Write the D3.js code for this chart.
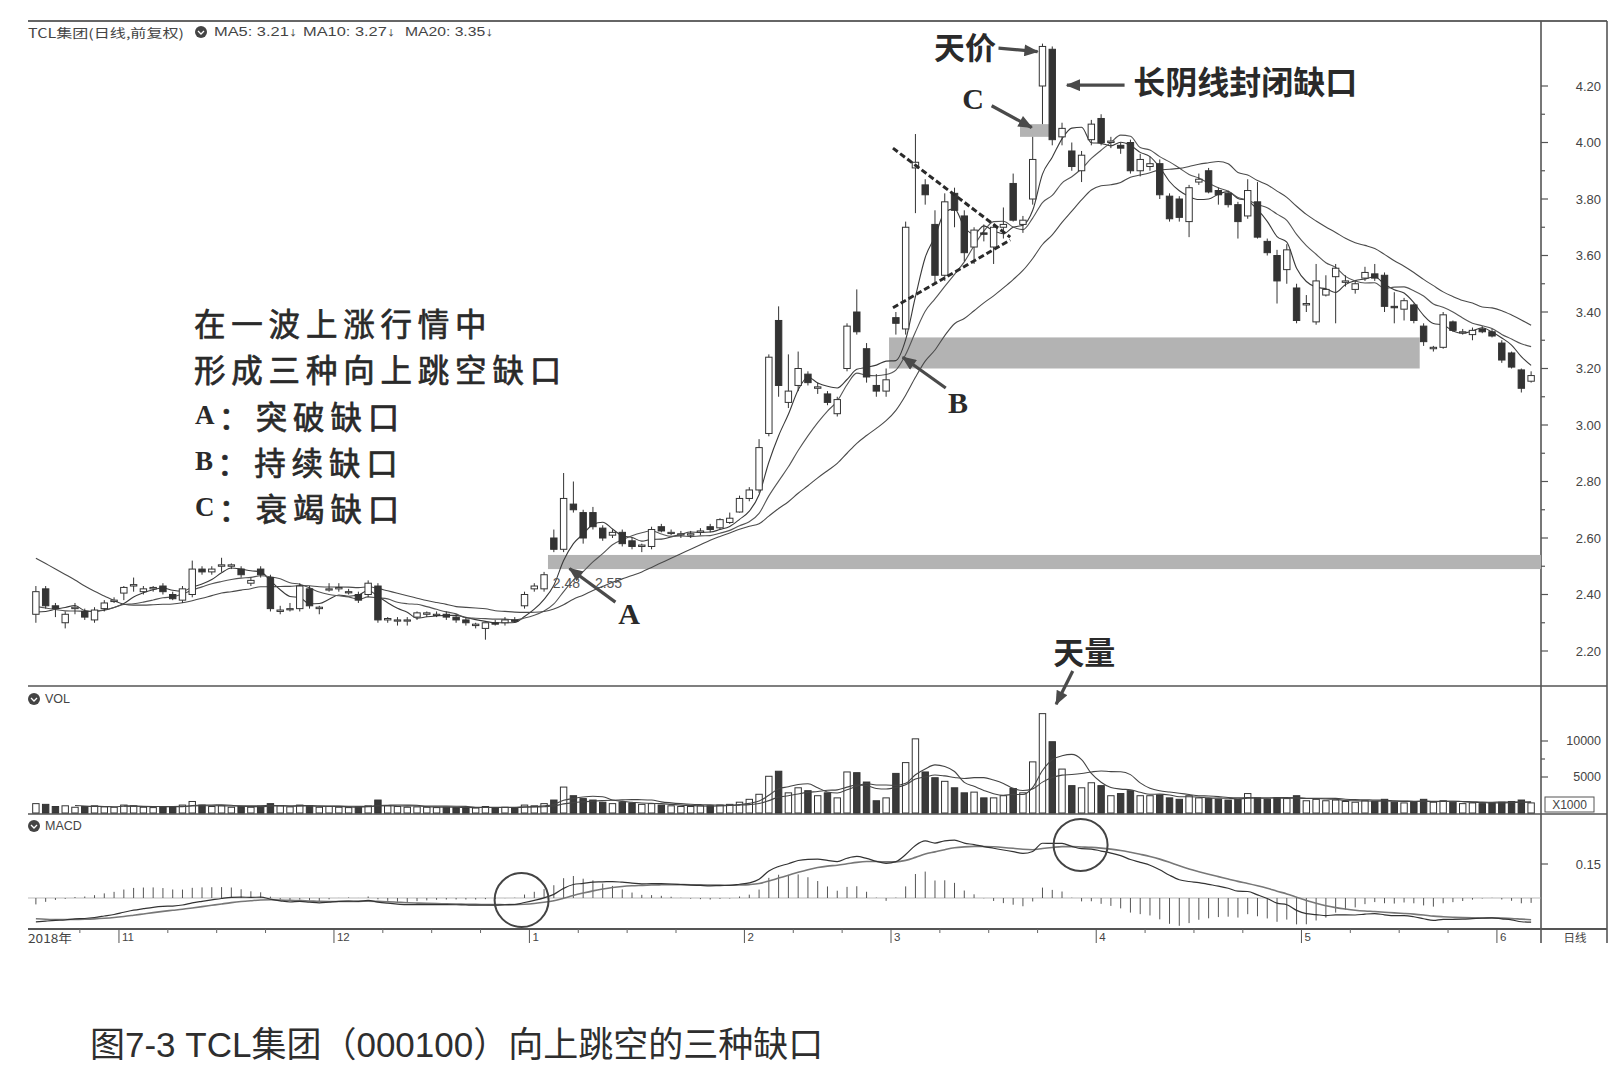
<!DOCTYPE html>
<html lang="zh-CN">
<head>
<meta charset="utf-8">
<script src="https://cdn.jsdelivr.net/npm/d3@7/dist/d3.min.js"></script>
<style>
html,body{margin:0;padding:0;background:#fff;}
svg{display:block;}
</style>
</head>
<body>
<svg id="chart" width="1618" height="1082"></svg>
<script>
// ================= DATA =================
// closes before the first visible candle (needed for the moving averages / MACD)
const priorCloses = [2.74,2.73,2.72,2.75,2.74,2.72,2.70,2.71,2.68,2.50,2.42,2.40,2.38,2.36,2.33,2.35,2.31,2.30,2.32];

const opens = [
2.33,2.42,2.36,2.30,2.35,2.34,2.31,2.35,2.375,
2.405,2.43,2.41,2.42,2.43,2.40,2.38,2.40,2.49,2.48,
2.50,2.50,2.49,2.44,2.49,2.46,2.34,2.35,2.35,2.42,2.35,
2.42,2.42,2.41,2.40,2.40,2.43,2.31,2.31,2.31,2.32,
2.33,2.33,2.33,2.32,2.31,2.29,2.28,2.30,2.30,2.31,
2.36,2.42,2.42,2.60,2.56,2.72,2.69,2.69,2.635,2.61,
2.62,2.59,2.57,2.57,2.64,2.62,2.615,2.61,2.62,2.64,
2.636,2.655,2.692,2.74,2.77,2.97,3.37,3.08,3.14,3.18,
3.13,3.11,3.04,3.20,3.40,3.27,3.14,3.12,3.38,3.34,
3.91,3.85,3.71,3.53,3.82,3.74,3.63,3.68,3.63,3.70,
3.855,3.71,3.80,4.20,4.33,4.02,3.97,3.90,4.01,4.085,
4.00,3.99,4.00,3.90,3.915,3.925,3.81,3.80,3.72,3.86,
3.90,3.83,3.82,3.78,3.74,3.79,3.65,3.60,3.55,3.485,
3.425,3.365,3.46,3.525,3.505,3.48,3.52,3.535,3.53,3.42,
3.41,3.425,3.35,3.27,3.275,3.365,3.33,3.32,3.34,3.33,
3.29,3.255,3.195,3.155
];
const highs = [
2.43,2.43,2.37,2.34,2.37,2.35,2.355,2.38,2.39,
2.43,2.46,2.43,2.43,2.44,2.41,2.43,2.52,2.50,2.50,
2.53,2.51,2.50,2.46,2.50,2.47,2.36,2.37,2.44,2.43,2.36,
2.44,2.44,2.42,2.41,2.45,2.44,2.32,2.32,2.32,2.34,
2.34,2.34,2.34,2.33,2.32,2.30,2.30,2.31,2.32,2.32,
2.41,2.44,2.48,2.63,2.83,2.80,2.70,2.71,2.645,2.63,
2.63,2.60,2.58,2.64,2.65,2.63,2.625,2.625,2.635,2.65,
2.67,2.69,2.75,2.78,2.95,3.25,3.42,3.25,3.26,3.19,
3.15,3.12,3.10,3.36,3.48,3.29,3.18,3.20,3.40,3.72,
4.03,3.87,3.76,3.82,3.84,3.76,3.70,3.71,3.71,3.77,
3.89,3.74,4.02,4.35,4.34,4.07,4.00,3.97,4.08,4.10,
4.02,4.00,4.01,3.96,3.95,3.94,3.82,3.81,3.85,3.89,
3.91,3.84,3.83,3.79,3.87,3.86,3.66,3.62,3.64,3.50,
3.46,3.57,3.53,3.57,3.53,3.51,3.56,3.57,3.54,3.47,
3.45,3.43,3.36,3.28,3.40,3.37,3.34,3.345,3.35,3.34,
3.30,3.26,3.20,3.19
];
const lows = [
2.30,2.35,2.32,2.28,2.33,2.31,2.30,2.34,2.37,
2.38,2.41,2.40,2.41,2.40,2.38,2.37,2.39,2.47,2.47,
2.48,2.49,2.46,2.43,2.46,2.34,2.33,2.34,2.34,2.35,2.33,
2.41,2.41,2.40,2.37,2.39,2.30,2.30,2.29,2.29,2.31,
2.32,2.32,2.31,2.30,2.29,2.28,2.24,2.29,2.29,2.30,
2.35,2.41,2.41,2.55,2.55,2.69,2.58,2.63,2.59,2.60,
2.57,2.56,2.55,2.56,2.62,2.61,2.60,2.60,2.61,2.62,
2.63,2.65,2.69,2.73,2.76,2.96,3.10,3.06,3.12,3.14,
3.11,3.07,3.03,3.19,3.32,3.15,3.10,3.10,3.32,3.32,
3.75,3.78,3.50,3.51,3.70,3.58,3.57,3.65,3.57,3.66,
3.72,3.68,3.78,4.065,3.99,3.99,3.90,3.86,3.99,3.99,
3.98,3.96,3.89,3.88,3.90,3.80,3.72,3.72,3.665,3.85,
3.82,3.78,3.77,3.66,3.73,3.66,3.60,3.43,3.50,3.36,
3.40,3.355,3.455,3.36,3.49,3.465,3.51,3.51,3.40,3.36,
3.37,3.36,3.28,3.26,3.27,3.33,3.32,3.30,3.325,3.31,
3.22,3.20,3.115,3.15
];
const closes = [
2.41,2.36,2.35,2.33,2.355,2.32,2.345,2.37,2.38,
2.425,2.435,2.42,2.425,2.41,2.385,2.42,2.49,2.48,2.49,
2.505,2.505,2.47,2.45,2.47,2.35,2.345,2.35,2.43,2.36,2.355,
2.42,2.425,2.41,2.38,2.44,2.31,2.315,2.31,2.31,2.335,
2.335,2.33,2.32,2.31,2.30,2.295,2.30,2.295,2.31,2.305,
2.40,2.43,2.47,2.56,2.74,2.70,2.60,2.64,2.60,2.62,
2.58,2.57,2.575,2.63,2.625,2.62,2.615,2.615,2.625,2.63,
2.665,2.67,2.74,2.77,2.92,3.24,3.14,3.12,3.20,3.15,
3.135,3.08,3.09,3.35,3.33,3.17,3.12,3.16,3.36,3.70,
3.93,3.815,3.53,3.79,3.76,3.61,3.69,3.675,3.70,3.71,
3.725,3.725,3.94,4.34,4.01,4.05,3.915,3.955,4.065,4.00,
4.005,3.98,3.90,3.94,3.925,3.815,3.73,3.735,3.84,3.87,
3.825,3.815,3.78,3.72,3.83,3.665,3.61,3.51,3.62,3.37,
3.43,3.51,3.48,3.555,3.51,3.50,3.54,3.52,3.42,3.415,
3.44,3.37,3.295,3.275,3.39,3.335,3.33,3.335,3.33,3.315,
3.23,3.205,3.13,3.175
];
const volumes = [
1300,1200,900,1000,800,900,1000,850,800,
1100,1000,800,750,900,850,1100,1600,1100,900,
1000,800,900,800,950,1300,1000,850,1100,1000,800,
900,800,750,850,1000,1800,1000,900,800,850,
800,750,800,750,700,700,900,750,800,750,
1100,1000,1300,1800,3600,2400,2000,1800,1500,1300,
1500,1400,1200,1300,1100,1000,900,900,1000,1000,
1100,1200,1500,1900,2600,5100,5800,2800,3500,3100,
2400,2800,2100,5700,5600,4300,1700,2100,5500,7000,
10300,5700,4900,4400,3500,2800,2900,2100,2100,2400,
3400,2800,7100,13800,9900,6100,3800,3500,4200,3800,
2400,2700,3100,2400,2400,2500,2100,1900,2400,2100,
2000,1900,1800,1900,2700,2100,1900,2100,2000,2400,
1700,1900,1700,1800,1600,1500,1700,1600,1900,1500,
1400,1600,1900,1500,1700,1500,1300,1400,1300,1400,
1500,1600,1800,1400
];

const monthStarts = [9,31,51,73,88,109,130,150];
const monthLabels = ["11","12","1","2","3","4","5","6"];
const priceTicks = [2.2,2.4,2.6,2.8,3.0,3.2,3.4,3.6,3.8,4.0,4.2];
const priceTickLabels = ["2.20","2.40","2.60","2.80","3.00","3.20","3.40","3.60","3.80","4.00","4.20"];
const volTicks = [5000,10000];
const volTickLabels = ["5000","10000"];
const macdTicks = [0.15];
const macdTickLabels = ["0.15"];

// gaps: [start index, end index, low price, high price]
const gapStarts = [52.9, 87.8, 101.2];
const gapEnds   = [154.5, 142.1, 104.6];
const gapLows   = [2.49, 3.20, 4.02];
const gapHighs  = [2.54, 3.31, 4.065];

const headerTexts = ["TCL集团(日线,前复权)","MA5: 3.21↓","MA10: 3.27↓","MA20: 3.35↓"];
const noteLines = ["在一波上涨行情中","形成三种向上跳空缺口"];
const gapNames = ["A","B","C"];
const gapDescs = ["突破缺口","持续缺口","衰竭缺口"];
const caption = "图7-3 TCL集团（000100）向上跳空的三种缺口";

// ================= LAYOUT =================
const LX = 28, AXX = 1541, RX = 1607;
const TOP = 21, MAIN_B = 686, VOL_B = 814, MACD_B = 929, DATE_B = 943;
const N = closes.length;

const svg = d3.select("#chart");
const xs = d3.scaleLinear().domain([0, 154]).range([31, 1536]);
const yP = d3.scaleLinear().domain([2.2, 4.2]).range([651, 86]);
const yV = d3.scaleLinear().domain([0, 10000]).range([813, 741]);
const yM = d3.scaleLinear().domain([0, 0.15]).range([898, 864]);
const cx = i => xs(i + 0.5);
const INK = "#333";
const bodyW = 6.4;

const defs = svg.append("defs");
function clip(id, y0, y1) {
  defs.append("clipPath").attr("id", id).append("rect")
    .attr("x", LX).attr("y", y0).attr("width", AXX - LX).attr("height", y1 - y0);
}
clip("cMain", TOP + 1, MAIN_B);
clip("cVol", MAIN_B + 1, VOL_B);
clip("cMacd", VOL_B + 1, MACD_B);
defs.append("marker").attr("id", "arr").attr("viewBox", "0 0 12 10")
  .attr("refX", 11).attr("refY", 5).attr("markerWidth", 15).attr("markerHeight", 12)
  .attr("markerUnits", "userSpaceOnUse").attr("orient", "auto")
  .append("path").attr("d", "M0,0 L12,5 L0,10 Z").attr("fill", "#4a4a4a");

// ---- derived indicators ----
const allC = priorCloses.concat(closes);
const P = priorCloses.length;
function maSeries(n) {
  return closes.map((_, i) => {
    const k = i + P;
    if (k - n + 1 < 0) return null;
    return d3.mean(allC.slice(k - n + 1, k + 1));
  });
}
function volMa(n) {
  return volumes.map((_, i) => i - n + 1 < 0 ? null : d3.mean(volumes.slice(i - n + 1, i + 1)));
}
function ema(arr, n) {
  const a = 2 / (n + 1); let e = arr[0];
  return arr.map((v, k) => (e = k === 0 ? v : a * v + (1 - a) * e));
}
const e12 = ema(allC, 12), e26 = ema(allC, 26);
const difAll = e12.map((v, k) => v - e26[k]);
const deaAll = ema(difAll, 9);
const dif = difAll.slice(P), dea = deaAll.slice(P);
const hist = dif.map((v, i) => 2 * (v - dea[i]));

// ================= FRAME =================
const frame = svg.append("g").attr("stroke", "#555").attr("fill", "none");
frame.append("line").attr("x1", LX).attr("x2", RX).attr("y1", TOP).attr("y2", TOP).attr("stroke-width", 2.2).attr("stroke", "#666");
[MAIN_B, VOL_B].forEach(y => frame.append("line").attr("x1", LX).attr("x2", RX).attr("y1", y).attr("y2", y).attr("stroke-width", 1.4));
frame.append("line").attr("x1", LX).attr("x2", RX).attr("y1", MACD_B).attr("y2", MACD_B).attr("stroke-width", 2);
frame.append("line").attr("x1", AXX).attr("x2", AXX).attr("y1", TOP).attr("y2", DATE_B).attr("stroke-width", 1.6);
frame.append("line").attr("x1", RX).attr("x2", RX).attr("y1", TOP).attr("y2", DATE_B).attr("stroke-width", 1.6);

// ================= MAIN PANEL =================
const gMain = svg.append("g").attr("clip-path", "url(#cMain)");

gapStarts.forEach((s, k) => {
  gMain.append("rect")
    .attr("x", xs(s)).attr("width", xs(gapEnds[k]) - xs(s))
    .attr("y", yP(gapHighs[k])).attr("height", yP(gapLows[k]) - yP(gapHighs[k]))
    .attr("fill", "#b3b3b3");
});

const lineGen = d3.line().defined(d => d.v != null).x(d => cx(d.i)).y(d => yP(d.v)).curve(d3.curveMonotoneX);
[[5, "#3a3a3a"], [10, "#555"], [20, "#4a4a4a"]].forEach(([n, col]) => {
  const s = maSeries(n).map((v, i) => ({ i, v }));
  gMain.append("path").attr("d", lineGen(s)).attr("fill", "none").attr("stroke", col).attr("stroke-width", 1.1);
});

const idx = d3.range(N);
const cg = gMain.selectAll("g.c").data(idx).join("g");
cg.append("line").attr("x1", i => cx(i)).attr("x2", i => cx(i))
  .attr("y1", i => yP(highs[i])).attr("y2", i => yP(lows[i])).attr("stroke", INK).attr("stroke-width", 1);
cg.append("rect")
  .attr("x", i => cx(i) - bodyW / 2).attr("width", bodyW)
  .attr("y", i => yP(Math.max(opens[i], closes[i])))
  .attr("height", i => Math.max(1.2, Math.abs(yP(opens[i]) - yP(closes[i]))))
  .attr("fill", i => closes[i] >= opens[i] ? "#fff" : INK)
  .attr("stroke", INK).attr("stroke-width", 1);

// converging-triangle dashed lines
const triU = [88.2, 100.2], triTop = [3.98, 3.665], triBot = [3.415, 3.655];
[triTop, triBot].forEach(pp => {
  gMain.append("line").attr("x1", xs(triU[0])).attr("y1", yP(pp[0])).attr("x2", xs(triU[1])).attr("y2", yP(pp[1]))
    .attr("stroke", "#2a2a2a").attr("stroke-width", 3).attr("stroke-dasharray", "6,3");
});

// ================= VOLUME PANEL =================
const gVol = svg.append("g").attr("clip-path", "url(#cVol)");
gVol.selectAll("rect").data(idx).join("rect")
  .attr("x", i => cx(i) - bodyW / 2).attr("width", bodyW)
  .attr("y", i => yV(volumes[i])).attr("height", i => yV(0) - yV(volumes[i]))
  .attr("fill", i => closes[i] >= opens[i] ? "#fff" : "#3a3a3a")
  .attr("stroke", INK).attr("stroke-width", 1);
const vLine = d3.line().defined(d => d.v != null).x(d => cx(d.i)).y(d => yV(d.v)).curve(d3.curveMonotoneX);
[5, 10].forEach(n => {
  gVol.append("path").attr("d", vLine(volMa(n).map((v, i) => ({ i, v }))))
    .attr("fill", "none").attr("stroke", "#444").attr("stroke-width", 1.1);
});

// ================= MACD PANEL =================
const gM = svg.append("g").attr("clip-path", "url(#cMacd)");
gM.append("line").attr("x1", LX).attr("x2", AXX).attr("y1", yM(0)).attr("y2", yM(0)).attr("stroke", "#aaa").attr("stroke-width", 0.8);
gM.selectAll("line.h").data(idx).join("line").attr("class", "h")
  .attr("x1", i => cx(i)).attr("x2", i => cx(i)).attr("y1", yM(0)).attr("y2", i => yM(hist[i]))
  .attr("stroke", "#555").attr("stroke-width", 1);
const mLine = d3.line().x((d, i) => cx(i)).y(d => yM(d)).curve(d3.curveMonotoneX);
gM.append("path").attr("d", mLine(dea)).attr("fill", "none").attr("stroke", "#777").attr("stroke-width", 1.6);
gM.append("path").attr("d", mLine(dif)).attr("fill", "none").attr("stroke", "#333").attr("stroke-width", 1.2);
[[50.2, -0.009, 27, 27], [107.4, 0.234, 27, 26]].forEach(([u, v, rx, ry]) => {
  svg.append("ellipse").attr("cx", xs(u)).attr("cy", yM(v)).attr("rx", rx).attr("ry", ry)
    .attr("fill", "none").attr("stroke", "#444").attr("stroke-width", 2);
});

// ================= AXES =================
const axFont = "'Liberation Sans', Arial, sans-serif";
const ax = svg.append("g").attr("font-family", axFont).attr("fill", "#444").attr("font-size", 13);
d3.range(2.2, 4.25, 0.1).forEach(v => {
  const major = Math.abs(Math.round(v * 10) % 2) === 0;
  ax.append("line").attr("x1", AXX).attr("x2", AXX + (major ? 7 : 4)).attr("y1", yP(v)).attr("y2", yP(v))
    .attr("stroke", "#555").attr("stroke-width", 1.2);
});
priceTicks.forEach((v, k) => ax.append("text").attr("x", 1601).attr("y", yP(v)).attr("text-anchor", "end")
  .attr("dominant-baseline", "central").text(priceTickLabels[k]));
[5000, 7500, 10000].forEach(v => ax.append("line").attr("x1", AXX).attr("x2", AXX + (v % 5000 === 0 ? 7 : 4))
  .attr("y1", yV(v)).attr("y2", yV(v)).attr("stroke", "#555").attr("stroke-width", 1.2));
volTicks.forEach((v, k) => ax.append("text").attr("x", 1601).attr("y", yV(v)).attr("text-anchor", "end")
  .attr("dominant-baseline", "central").attr("font-size", 12.5).text(volTickLabels[k]));
ax.append("rect").attr("x", 1545).attr("y", 797).attr("width", 49).attr("height", 15).attr("fill", "#fff").attr("stroke", "#555");
ax.append("text").attr("x", 1569.5).attr("y", 805).attr("text-anchor", "middle").attr("dominant-baseline", "central")
  .attr("font-size", 12).text("X1000");
macdTicks.forEach((v, k) => {
  ax.append("line").attr("x1", AXX).attr("x2", AXX + 7).attr("y1", yM(v)).attr("y2", yM(v)).attr("stroke", "#555").attr("stroke-width", 1.2);
  ax.append("text").attr("x", 1601).attr("y", yM(v)).attr("text-anchor", "end").attr("dominant-baseline", "central").text(macdTickLabels[k]);
});

const dg = svg.append("g").attr("font-family", axFont).attr("fill", "#444").attr("font-size", 11.5);
monthStarts.forEach((m, k) => {
  dg.append("line").attr("x1", xs(m)).attr("x2", xs(m)).attr("y1", MACD_B).attr("y2", DATE_B).attr("stroke", "#555");
  dg.append("text").attr("x", xs(m) + 3).attr("y", 937).attr("dominant-baseline", "central").text(monthLabels[k]);
  const next = k + 1 < monthStarts.length ? monthStarts[k + 1] : N;
  [5, 10, 15].forEach(o => { if (m + o < next - 1) dg.append("line").attr("x1", xs(m + o)).attr("x2", xs(m + o)).attr("y1", MACD_B).attr("y2", MACD_B + 4).attr("stroke", "#666"); });
});
dg.append("line").attr("x1", xs(5)).attr("x2", xs(5)).attr("y1", MACD_B).attr("y2", MACD_B + 4).attr("stroke", "#666");
dg.append("text").attr("x", LX).attr("y", 937).attr("dominant-baseline", "central").attr("font-family", "'Noto Sans CJK SC', sans-serif").attr("font-size", 12).attr("textLength", 44).attr("lengthAdjust", "spacingAndGlyphs").text("2018年");
dg.append("text").attr("x", 1575).attr("y", 937).attr("text-anchor", "middle").attr("dominant-baseline", "central").attr("font-family", "'Noto Sans CJK SC', sans-serif").attr("font-size", 11.5).text("日线");

// ================= HEADER & PANEL LABELS =================
const hd = svg.append("g").attr("font-family", "'Noto Sans CJK SC', 'Liberation Sans', sans-serif").attr("font-size", 12.5).attr("fill", "#444");
hd.append("text").attr("x", LX).attr("y", 32).attr("dominant-baseline", "central").attr("textLength", 156).attr("lengthAdjust", "spacingAndGlyphs").text(headerTexts[0]);
function badge(x, y) {
  svg.append("circle").attr("cx", x).attr("cy", y).attr("r", 6).attr("fill", "#444");
  svg.append("path").attr("d", `M${x-3},${y-1} L${x},${y+2} L${x+3},${y-1}`).attr("stroke", "#fff").attr("stroke-width", 1.3).attr("fill", "none");
}
badge(201, 32);
[[214, 83], [303, 92], [405, 88]].forEach(([x, w], k) => hd.append("text").attr("x", x).attr("y", 32).attr("dominant-baseline", "central")
  .attr("font-family", axFont).attr("textLength", w).attr("lengthAdjust", "spacingAndGlyphs").text(headerTexts[k + 1]));
badge(34, 699);
hd.append("text").attr("x", 45).attr("y", 699).attr("dominant-baseline", "central").attr("font-family", axFont).text("VOL");
badge(34, 826);
hd.append("text").attr("x", 45).attr("y", 826).attr("dominant-baseline", "central").attr("font-family", axFont).text("MACD");

// ================= ANNOTATIONS =================
const cjk = "'Noto Sans CJK SC', sans-serif";
const serif = "'Liberation Serif', 'DejaVu Serif', serif";
const an = svg.append("g").attr("fill", "#2a2a2a");
const noteY = [322, 368, 415, 461, 507];
noteLines.forEach((t, k) => an.append("text").attr("x", 194).attr("y", noteY[k]).attr("dominant-baseline", "central")
  .attr("font-family", cjk).attr("font-size", 31.5).attr("letter-spacing", 5.8)
  .attr("stroke", "#2a2a2a").attr("stroke-width", 0.7).text(t));
gapNames.forEach((g, k) => {
  const t = an.append("text").attr("x", 195).attr("y", noteY[k + 2]).attr("dominant-baseline", "central");
  t.append("tspan").attr("font-family", serif).attr("font-weight", 700).attr("font-size", 27).text(g);
  t.append("tspan").attr("font-family", cjk).attr("font-size", 31.5).attr("letter-spacing", 5.8)
    .attr("stroke", "#2a2a2a").attr("stroke-width", 0.7).attr("dx", 4).text("：" + gapDescs[k]);
});

function arrow(u1, y1, u2, y2) {
  an.append("line").attr("x1", xs(u1)).attr("y1", y1).attr("x2", xs(u2)).attr("y2", y2)
    .attr("stroke", "#4a4a4a").attr("stroke-width", 3.2).attr("marker-end", "url(#arr)");
}
an.append("text").attr("x", xs(92.4)).attr("y", yP(4.342)).attr("dominant-baseline", "central")
  .attr("font-family", cjk).attr("font-weight", 700).attr("font-size", 31).text("天价");
arrow(99.0, yP(4.334), 103.0, yP(4.322));
an.append("text").attr("x", xs(112.8)).attr("y", yP(4.221)).attr("dominant-baseline", "central")
  .attr("font-family", cjk).attr("font-weight", 700).attr("font-size", 32).text("长阴线封闭缺口");
arrow(111.9, yP(4.203), 106.0, yP(4.203));
an.append("text").attr("x", xs(96.4)).attr("y", yP(4.157)).attr("text-anchor", "middle").attr("dominant-baseline", "central")
  .attr("font-family", serif).attr("font-weight", 700).attr("font-size", 30).text("C");
arrow(98.3, yP(4.13), 102.4, yP(4.053));
an.append("text").attr("x", xs(94.85)).attr("y", yP(3.081)).attr("text-anchor", "middle").attr("dominant-baseline", "central")
  .attr("font-family", serif).attr("font-weight", 700).attr("font-size", 30).text("B");
arrow(93.6, yP(3.131), 89.2, yP(3.24));
an.append("text").attr("x", xs(61.2)).attr("y", yP(2.331)).attr("text-anchor", "middle").attr("dominant-baseline", "central")
  .attr("font-family", serif).attr("font-weight", 700).attr("font-size", 30).text("A");
arrow(59.8, yP(2.373), 55.1, yP(2.492));
[[53.4, "2.48"], [57.7, "2.55"]].forEach(([u, t]) => an.append("text").attr("x", xs(u)).attr("y", yP(2.44))
  .attr("dominant-baseline", "central").attr("font-family", axFont).attr("font-size", 14).attr("fill", "#555").text(t));
an.append("text").attr("x", xs(104.6)).attr("y", yP(2.2035)).attr("dominant-baseline", "central")
  .attr("font-family", cjk).attr("font-weight", 700).attr("font-size", 31).text("天量");
arrow(106.6, yP(2.129), 104.9, yV(15100));

// ================= CAPTION =================
svg.append("text").attr("x", 90).attr("y", 1044).attr("dominant-baseline", "central")
  .attr("font-family", "'Liberation Sans', 'Noto Sans CJK SC', sans-serif").attr("font-size", 35).attr("fill", "#2e2e2e").text(caption);
</script>
</body>
</html>
